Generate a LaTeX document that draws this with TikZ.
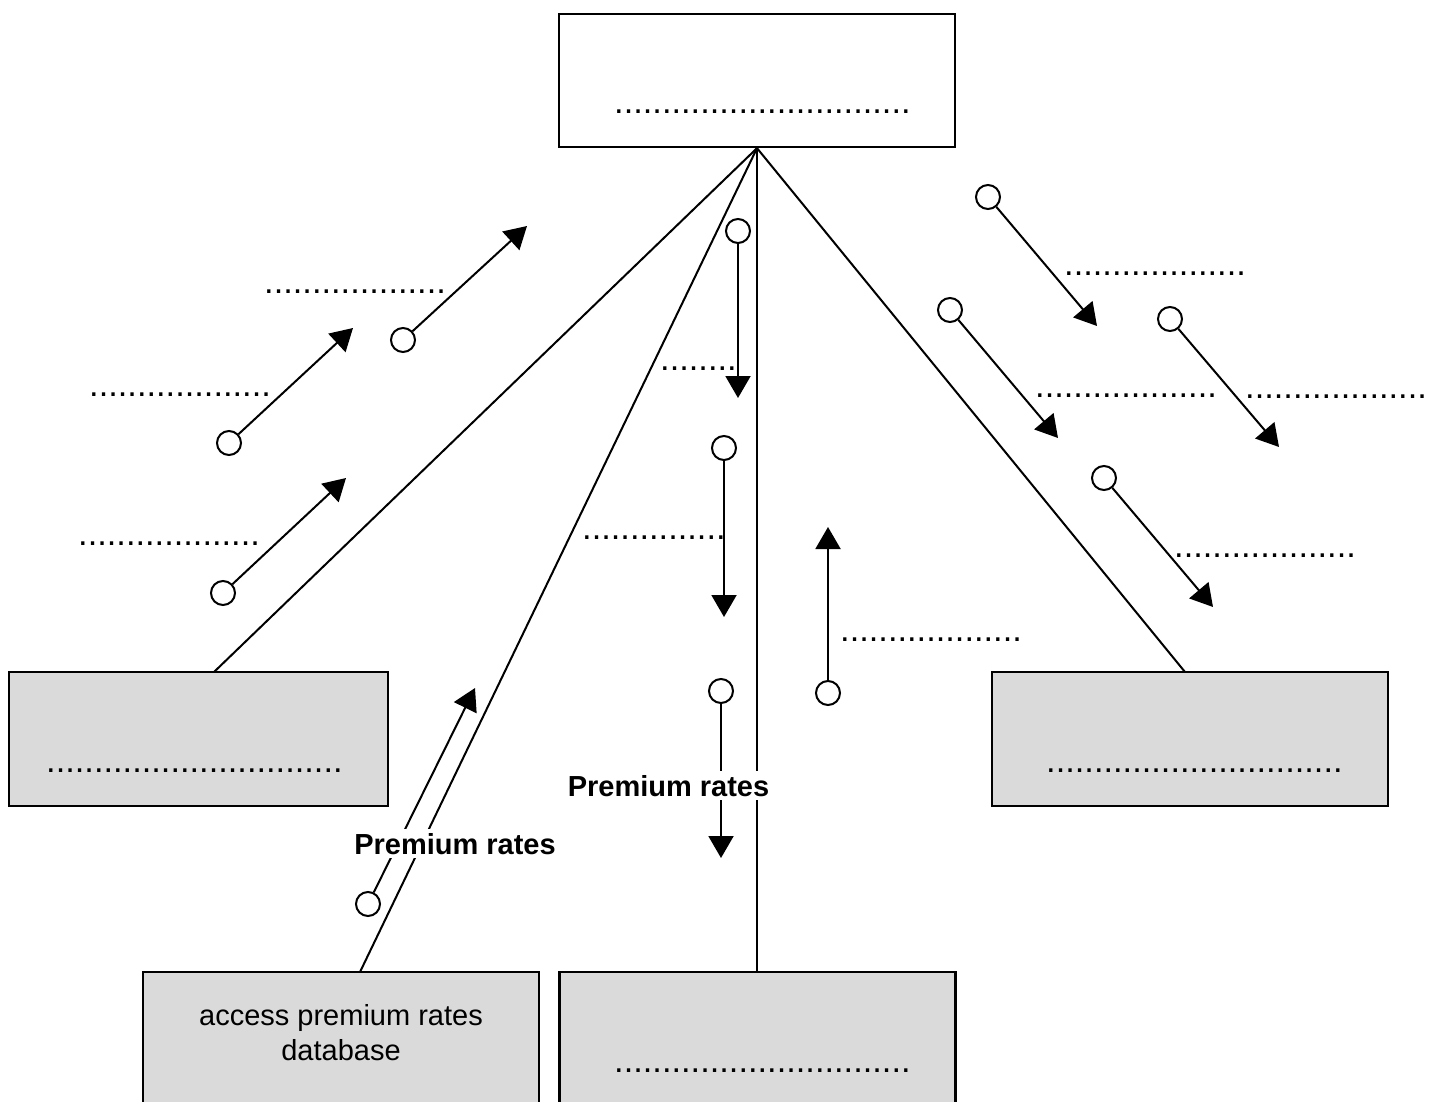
\documentclass[tikz,border=0pt]{standalone}
\usepackage{fontspec}
\setmainfont{Liberation Sans}
\usetikzlibrary{arrows.meta}
\definecolor{boxgrey}{RGB}{218,218,218}
\begin{document}
\begin{tikzpicture}[x=1pt,y=-1pt,
  box/.style={draw, line width=2.3pt, minimum width=396pt, minimum height=133pt, inner sep=0pt},
  greybox/.style={box, fill=boxgrey},
  conn/.style={line width=2pt},
  flow/.style={line width=2pt, -{Triangle[length=22pt,width=25pt]}},
  knob/.style={circle, draw, fill=white, line width=2pt, minimum size=24pt, inner sep=0pt},
  blank/.style={anchor=base west, inner sep=0pt, font=\fontsize{34.4}{40}\selectfont},
  lbl/.style={fill=white, anchor=base, inner xsep=1pt, inner ysep=4pt, font=\fontsize{29}{33}\selectfont\bfseries}
]
\clip (0,0) rectangle (1429,1102);
\fill[white] (0,0) rectangle (1429,1102);

% boxes
\node[box, fill=white] (top) at (757,80.5) {};
\node[greybox, minimum width=379pt, minimum height=134pt] (lbox) at (198.5,739) {};
\node[greybox, minimum height=134pt] (rbox) at (1190,739) {};
\node[greybox] (dbox) at (341,1038.5) {};
\node[greybox] (mbox) at (757.5,1038.5) {};

% connector ends
\coordinate (lend) at (214,672);
\coordinate (rend) at (1185,672);
\coordinate (dend) at (360,972);
\coordinate (mend) at (757,972);
\draw[conn] (top.south) -- (lend);
\draw[conn] (top.south) -- (rend);
\draw[conn] (top.south) -- (dend);
\draw[conn] (top.south) -- (mend);

% box texts
\node[blank] (tb) at (614,113.7) {...............................};
\node[blank] (lb) at (46,772.7) {...............................};
\node[blank] (rb) at (1046,772.7) {...............................};
\node[blank] (mb) at (614,1072.7) {...............................};
\node[align=center, anchor=base, inner sep=0pt, font=\fontsize{29}{35}\selectfont] (dtxt) at (341,1060) {access premium rates\\database};

% answer blanks
\node[blank] (b1) at (264,293.7) {...................};
\node[blank] (b2) at (89,396.7) {...................};
\node[blank] (b3) at (78,545.7) {...................};
\node[blank] (b4) at (1064,275.7) {...................};
\node[blank] (b5) at (1035,397.7) {...................};
\node[blank] (b6) at (1245,398.7) {...................};
\node[blank] (b7) at (1174,557.7) {...................};
\node[blank] (b8) at (840,641.7) {...................};
\node[blank] (b9) at (660,370.7) {........};
\node[blank] (b10) at (582,539.7) {...............};

% data flows
\node[knob] (c1) at (403,340) {};   \coordinate (t1) at (527,226);
\node[knob] (c2) at (229,443) {};   \coordinate (t2) at (353,328);
\node[knob] (c3) at (223,593) {};   \coordinate (t3) at (346,478);
\node[knob] (c4) at (738,231) {};   \coordinate (t4) at (738,398);
\node[knob] (c5) at (724,448) {};   \coordinate (t5) at (724,617);
\node[knob] (c6) at (828,693) {};   \coordinate (t6) at (828,527);
\node[knob] (c7) at (721,691) {};   \coordinate (t7) at (721,858);
\node[knob] (c8) at (368,904) {};   \coordinate (t8) at (475,688);
\node[knob] (c9) at (988,197) {};   \coordinate (t9) at (1097,326);
\node[knob] (c10) at (950,310) {};  \coordinate (t10) at (1058,438);
\node[knob] (c11) at (1170,319) {}; \coordinate (t11) at (1279,447);
\node[knob] (c12) at (1104,478) {}; \coordinate (t12) at (1213,607);
\foreach \i in {1,...,12}{\draw[flow] (c\i) -- (t\i);}

% labels
\node[lbl] (p1) at (668.5,796) {Premium rates};
\node[lbl] (p2) at (455,854) {Premium rates};
\end{tikzpicture}
\end{document}
